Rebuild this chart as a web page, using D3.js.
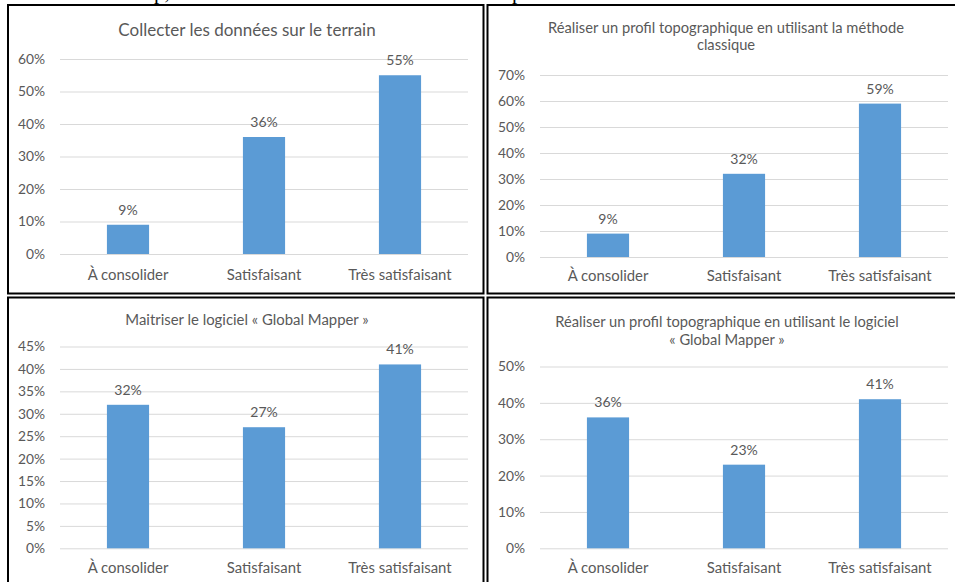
<!DOCTYPE html>
<html>
<head>
<meta charset="utf-8">
<script src="https://cdn.jsdelivr.net/npm/d3@7"></script>
<style>
  html, body { margin: 0; padding: 0; background: #fff; }
  svg { display: block; }
</style>
</head>
<body>
<svg id="fig" width="955" height="582"></svg>
<script>
// Categories shared by the four charts
const categories = ["À consolider", "Satisfaisant", "Très satisfaisant"];

// Percentages per chart
const valuesCollecte = [9, 36, 55];
const valuesMethodeClassique = [9, 32, 59];
const valuesMaitriseGM = [32, 27, 41];
const valuesProfilGM = [36, 23, 41];

// Y-axis tick values per chart
const ticksCollecte = [0, 10, 20, 30, 40, 50, 60];
const ticksMethodeClassique = [0, 10, 20, 30, 40, 50, 60, 70];
const ticksMaitriseGM = [0, 5, 10, 15, 20, 25, 30, 35, 40, 45];
const ticksProfilGM = [0, 10, 20, 30, 40, 50];

// Chart titles (one entry per line)
const titleCollecte = ["Collecter les données sur le terrain"];
const titleMethodeClassique = ["Réaliser un profil topographique en utilisant la méthode", "classique"];
const titleMaitriseGM = ["Maitriser le logiciel « Global Mapper »"];
const titleProfilGM = ["Réaliser un profil topographique en utilisant le logiciel", "« Global Mapper »"];

const FONT = "Lato, 'Open Sans', sans-serif";
const TEXT = "#595959";
const GRID = "#d9d9d9";
const BAR = "#5b9bd5";

const svg = d3.select("#fig");

// Descenders of the running document text above the figure
svg.append("g")
  .attr("font-family", "'Liberation Serif', serif")
  .attr("font-size", 21)
  .attr("fill", "#000")
  .selectAll("text")
  .data([{ t: "p,", x: 154 }, { t: "p", x: 512 }])
  .join("text")
  .attr("x", d => d.x)
  .attr("y", -1)
  .text(d => d.t);

// Panel frames
const frames = [
  { x: 8, y: 5, w: 475.5, h: 288.5 },
  { x: 487.5, y: 5, w: 480, h: 288.5 },
  { x: 8, y: 297.5, w: 475.5, h: 320 },
  { x: 487.5, y: 297.5, w: 480, h: 320 }
];
svg.append("g").selectAll("rect")
  .data(frames)
  .join("rect")
  .attr("x", d => d.x)
  .attr("y", d => d.y)
  .attr("width", d => d.w)
  .attr("height", d => d.h)
  .attr("fill", "none")
  .attr("stroke", "#000")
  .attr("stroke-width", 2);

const charts = [
  { values: valuesCollecte, ticks: ticksCollecte, title: titleCollecte,
    left: 60, right: 468, bottom: 254, top: 59, labelRight: 45,
    titleX: 247, titleY: [30], titleSize: 17, catY: 275 },
  { values: valuesMethodeClassique, ticks: ticksMethodeClassique, title: titleMethodeClassique,
    left: 540, right: 948, bottom: 257, top: 75, labelRight: 525,
    titleX: 726, titleY: [28, 45], titleSize: 14.7, catY: 276 },
  { values: valuesMaitriseGM, ticks: ticksMaitriseGM, title: titleMaitriseGM,
    left: 60, right: 468, bottom: 548.3, top: 346.5, labelRight: 45,
    titleX: 247, titleY: [320], titleSize: 14.9, catY: 568 },
  { values: valuesProfilGM, ticks: ticksProfilGM, title: titleProfilGM,
    left: 540, right: 948, bottom: 548.3, top: 366.5, labelRight: 525,
    titleX: 727, titleY: [322, 340], titleSize: 14.7, catY: 568 }
];

charts.forEach(c => {
  const g = svg.append("g").attr("font-family", FONT);

  const x = d3.scaleBand()
    .domain(categories)
    .range([c.left, c.right])
    .paddingInner(0.69)
    .paddingOuter(0.345);

  const y = d3.scaleLinear()
    .domain([0, d3.max(c.ticks)])
    .range([c.bottom, c.top]);

  // Title
  g.append("g").selectAll("text")
    .data(c.title)
    .join("text")
    .attr("x", c.titleX)
    .attr("y", (d, i) => c.titleY[i])
    .attr("dy", "0.35em")
    .attr("text-anchor", "middle")
    .attr("font-size", c.titleSize)
    .attr("fill", TEXT)
    .text(d => d);

  // Horizontal gridlines and percentage labels
  const yAxis = d3.axisLeft(y)
    .tickValues(c.ticks)
    .tickSize(-(c.right - c.left))
    .tickPadding(c.left - c.labelRight)
    .tickFormat(d => d + "%");
  const ya = g.append("g")
    .attr("transform", `translate(${c.left},0)`)
    .call(yAxis);
  ya.select(".domain").remove();
  ya.selectAll(".tick line").attr("stroke", GRID).attr("stroke-width", 1);
  ya.selectAll(".tick text")
    .attr("fill", TEXT)
    .attr("font-size", 13.8)
    .attr("font-family", FONT);

  // Category axis
  const xAxis = d3.axisBottom(x).tickSize(0).tickPadding(0);
  const xa = g.append("g")
    .attr("transform", `translate(0,${c.catY})`)
    .call(xAxis);
  xa.select(".domain").remove();
  xa.selectAll(".tick text")
    .attr("dy", "0.35em")
    .attr("y", 0)
    .attr("fill", TEXT)
    .attr("font-size", 14.9)
    .attr("font-family", FONT);

  // Bars
  g.append("g").selectAll("rect")
    .data(c.values)
    .join("rect")
    .attr("x", (d, i) => x(categories[i]))
    .attr("width", x.bandwidth())
    .attr("y", d => y(d))
    .attr("height", d => y(0) - y(d))
    .attr("fill", BAR);

  // Value labels
  g.append("g").selectAll("text")
    .data(c.values)
    .join("text")
    .attr("x", (d, i) => x(categories[i]) + x.bandwidth() / 2)
    .attr("y", d => y(d) - 15)
    .attr("dy", "0.35em")
    .attr("text-anchor", "middle")
    .attr("font-size", 14)
    .attr("fill", TEXT)
    .text(d => d + "%");
});
</script>
</body>
</html>
